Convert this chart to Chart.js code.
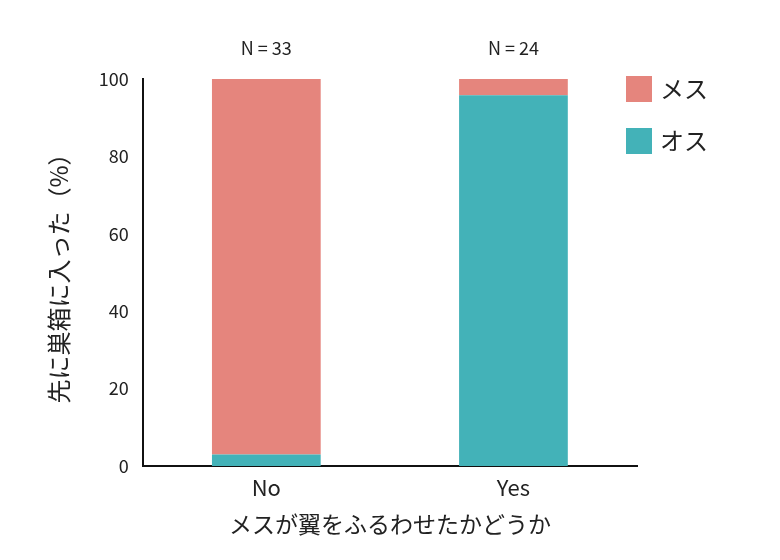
<!DOCTYPE html>
<html>
<head>
<meta charset="utf-8">
<script src="https://cdn.jsdelivr.net/npm/chart.js@4"></script>
<style>
  body { margin: 0; background: #fff; }
  #wrap { width: 780px; height: 560px; }
</style>
</head>
<body>
<div id="wrap"><canvas id="c" width="780" height="560"></canvas></div>
<script>
const categories = ['No', 'Yes'];
const maleValues = [3.0, 95.8];   // オス
const femaleValues = [97.0, 4.2]; // メス
const sampleSizes = ['N = 33', 'N = 24'];
const yTicks = [0, 20, 40, 60, 80, 100];

const FONT = '"Noto Sans CJK JP", "Noto Sans", sans-serif';

// N ラベルと凡例を描く
const extras = {
  id: 'extras',
  afterDraw(chart) {
    const ctx = chart.ctx;
    const x = chart.scales.x, y = chart.scales.y;
    ctx.save();
    ctx.fillStyle = '#222';
    ctx.font = '18px ' + FONT;
    ctx.textAlign = 'center';
    ctx.textBaseline = 'middle';
    sampleSizes.forEach((t, i) => ctx.fillText(t, x.getPixelForValue(i), y.getPixelForValue(100) - 31));

    const items = [['メス', '#e5857d'], ['オス', '#43b2b8']];
    ctx.font = '24px ' + FONT;
    ctx.textAlign = 'left';
    items.forEach(([label, color], i) => {
      const top = 76 + i * 52;
      ctx.fillStyle = color;
      ctx.fillRect(626, top, 26, 26);
      ctx.fillStyle = '#222';
      ctx.fillText(label, 660, top + 13);
    });
    ctx.restore();
  }
};

new Chart(document.getElementById('c'), {
  type: 'bar',
  data: {
    labels: categories,
    datasets: [
      { label: 'オス', data: maleValues, backgroundColor: '#43b2b8', barPercentage: 0.44, categoryPercentage: 1 },
      { label: 'メス', data: femaleValues, backgroundColor: '#e5857d', barPercentage: 0.44, categoryPercentage: 1 }
    ]
  },
  options: {
    responsive: false,
    animation: false,
    layout: { padding: { left: 40, right: 143, top: 79, bottom: 18 } },
    plugins: { legend: { display: false }, tooltip: { enabled: false } },
    scales: {
      x: {
        stacked: true,
        grid: { display: false, drawTicks: false },
        border: { color: '#111', width: 2 },
        ticks: { color: '#222', font: { size: 22, family: FONT }, padding: 8 },
        title: { display: true, text: 'メスが翼をふるわせたかどうか', color: '#222', font: { size: 23, family: FONT }, padding: { top: 2 } }
      },
      y: {
        stacked: true,
        min: 0, max: 100,
        afterBuildTicks: axis => { axis.ticks = yTicks.map(v => ({ value: v })); },
        grid: { display: false, drawTicks: true, tickLength: 8, tickColor: '#111', tickWidth: 2 },
        border: { color: '#111', width: 2 },
        ticks: { color: '#222', font: { size: 18, family: FONT }, padding: 6 },
        title: { display: true, text: '先に巣箱に入った（%）', color: '#222', font: { size: 24, family: FONT }, padding: { bottom: 20 } }
      }
    }
  },
  plugins: [extras]
});
</script>
</body>
</html>
